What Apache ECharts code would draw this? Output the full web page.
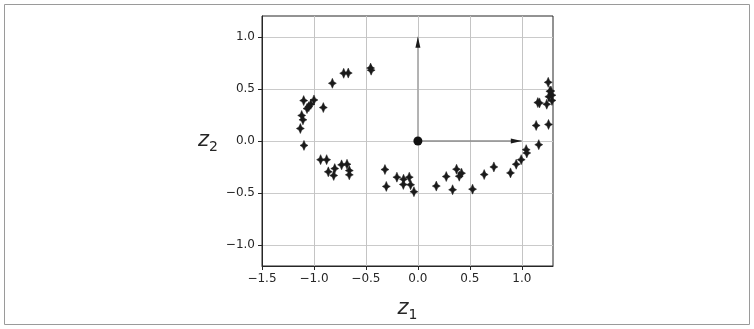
<!DOCTYPE html>
<html><head><meta charset="utf-8">
<script src="https://cdn.jsdelivr.net/npm/echarts@6/dist/echarts.min.js"></script>
<style>html,body{margin:0;padding:0;background:#fff}#c{width:754px;height:329px}</style>
</head><body><div id="c"></div>
<script>
const z1Values = [-0.455,-0.45,-0.714,-0.67,-0.823,-1.0,-1.099,-1.03,-1.05,-1.067,-0.91,-1.118,-1.106,-1.131,
  1.254,1.27,1.26,1.17,1.154,1.24,1.29,1.138,1.257,1.29,1.28,
  -1.096,-0.936,-0.878,-0.862,-0.80,-0.81,-0.734,-0.682,-0.66,-0.66,
  -0.317,-0.304,-0.202,-0.138,-0.14,-0.083,-0.07,-0.038,
  0.177,0.273,0.334,0.372,0.398,0.42,0.526,0.638,0.731,0.891,0.946,0.994,1.042,1.048,1.163];
const z2Values = [0.70,0.68,0.65,0.652,0.554,0.394,0.388,0.353,0.33,0.311,0.321,0.245,0.203,0.12,
  0.563,0.477,0.426,0.366,0.369,0.353,0.39,0.149,0.159,0.44,0.48,
  -0.042,-0.179,-0.179,-0.296,-0.265,-0.331,-0.229,-0.223,-0.284,-0.325,
  -0.274,-0.436,-0.347,-0.367,-0.417,-0.347,-0.42,-0.487,
  -0.433,-0.341,-0.468,-0.271,-0.338,-0.309,-0.462,-0.322,-0.249,-0.306,-0.223,-0.179,-0.083,-0.115,-0.035];
const xTicks = [-1.5,-1.0,-0.5,0.0,0.5,1.0];
const yTicks = [-1.0,-0.5,0.0,0.5,1.0];
const xRange = [-1.5,1.3];
const yRange = [-1.2,1.2];
const origin = [0,0];
const axisVecX = [1,0];
const axisVecY = [0,1];

const fmt = v => (Math.abs(v) < 1e-9 ? 0 : v).toFixed(1).replace('-', '\u2212');
const points = z1Values.map((x, i) => [x, z2Values[i]]);
const star = 'path://M0,-5 L1.5,-1.5 L4,0 L1.5,1.5 L0,5 L-1.5,1.5 L-4,0 L-1.5,-1.5 Z';
const nameRich = {
  z: {fontFamily: 'DejaVu Sans', fontStyle: 'italic', fontSize: 21, color: '#262626'},
  s: {fontFamily: 'DejaVu Sans', fontSize: 14, color: '#262626', verticalAlign: 'bottom', padding: [12,0,0,0]}
};
const chart = echarts.init(document.getElementById('c'), null, {renderer: 'canvas'});
chart.setOption({
  animation: false,
  backgroundColor: '#fff',
  graphic: [{type: 'rect', shape: {x: 4.5, y: 4.5, width: 745, height: 320}, style: {fill: 'none', stroke: '#9a9a9a', lineWidth: 1}, silent: true}],
  grid: {left: 262, top: 16, right: 201, bottom: 63, show: true, borderColor: '#262626', borderWidth: 1, backgroundColor: 'transparent'},
  xAxis: {
    type: 'value', min: xRange[0], max: xRange[1],
    name: '{z|z}{s|1}', nameLocation: 'middle', nameGap: 30, nameTextStyle: {rich: nameRich},
    axisLine: {onZero: false, lineStyle: {color: '#262626'}},
    axisTick: {show: true, length: 4, customValues: xTicks, lineStyle: {color: '#262626'}},
    axisLabel: {customValues: xTicks, formatter: fmt, fontFamily: 'DejaVu Sans', fontSize: 12, color: '#262626', margin: 7},
    splitLine: {show: true, lineStyle: {color: '#c4c4c4', width: 1}}
  },
  yAxis: {
    type: 'value', min: yRange[0], max: yRange[1],
    name: '{z|z}{s|2}', nameLocation: 'middle', nameGap: 44, nameRotate: 0, nameTextStyle: {rich: nameRich},
    axisLine: {onZero: false, lineStyle: {color: '#262626'}},
    axisTick: {show: true, length: 4, customValues: yTicks, lineStyle: {color: '#262626'}},
    axisLabel: {customValues: yTicks, formatter: fmt, fontFamily: 'DejaVu Sans', fontSize: 12, color: '#262626', margin: 7},
    splitLine: {show: true, lineStyle: {color: '#cacaca', width: 1}}
  },
  series: [
    {type: 'line', data: [origin, axisVecX], symbol: 'none', lineStyle: {color: '#8c8c8c', width: 1.5}, z: 3},
    {type: 'line', data: [origin, axisVecY], symbol: 'none', lineStyle: {color: '#a8a8a8', width: 1.5}, z: 3},
    {type: 'scatter', data: [axisVecX], symbol: 'path://M0,0 L12,3 L0,6 Z', symbolSize: [11, 5], symbolOffset: [-5.5, 0], itemStyle: {color: '#1a1a1a', opacity: 1}, z: 4},
    {type: 'scatter', data: [axisVecY], symbol: 'path://M3,0 L6,12 L0,12 Z', symbolSize: [5, 11], symbolOffset: [0, 5.5], itemStyle: {color: '#1a1a1a', opacity: 1}, z: 4},
    {type: 'scatter', data: [origin], symbol: 'circle', symbolSize: 9, itemStyle: {color: '#111', opacity: 1}, z: 5},
    {type: 'scatter', data: points, symbol: star, symbolSize: [8, 10], itemStyle: {color: '#1a1a1a', borderColor: '#1a1a1a', borderWidth: 0.5, opacity: 1}, z: 6, clip: true}
  ]
});
</script></body></html>
